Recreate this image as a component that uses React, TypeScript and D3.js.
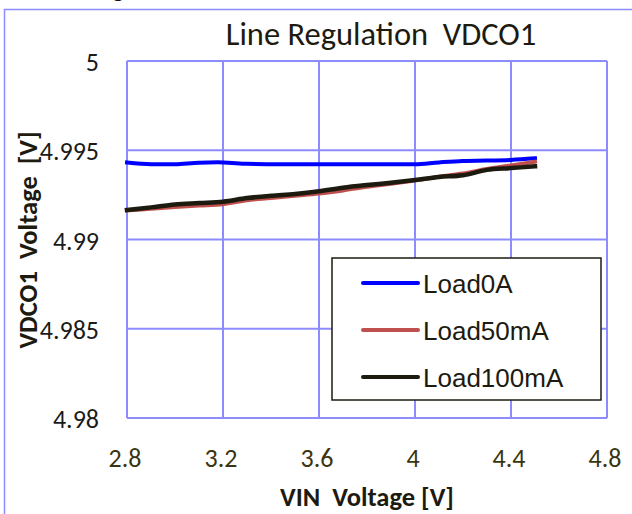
import { useEffect, useRef } from "react";
import * as d3 from "d3";

const vin = [2.8, 2.9, 3.0, 3.1, 3.2, 3.3, 3.4, 3.5, 3.6, 3.7, 3.8, 3.9, 4.0, 4.1, 4.2, 4.3, 4.4, 4.5];

const load0A = [
  4.99432, 4.99422, 4.99422, 4.9943, 4.99432, 4.99424, 4.99422, 4.99422, 4.99422,
  4.99422, 4.99422, 4.99422, 4.99422, 4.99432, 4.9944, 4.99442, 4.99446, 4.99455,
];
const load50mA = [
  4.99163, 4.99172, 4.99182, 4.9919, 4.99198, 4.9922, 4.99232, 4.99245, 4.99258,
  4.99275, 4.99295, 4.99312, 4.9933, 4.99352, 4.9937, 4.99395, 4.99415, 4.99436,
];
const load100mA = [
  4.99165, 4.9918, 4.99196, 4.99204, 4.99212, 4.99232, 4.99245, 4.99255, 4.9927,
  4.9929, 4.99305, 4.99318, 4.99333, 4.9935, 4.9936, 4.9939, 4.994, 4.9941,
];

const seriesNames = ["Load0A", "Load50mA", "Load100mA"];
const seriesColors = ["#0000ff", "#c0504d", "#1d1b10"];
const xTicks = [2.8, 3.2, 3.6, 4.0, 4.4, 4.8];
const yTicks = [4.98, 4.985, 4.99, 4.995, 5];

const width = 632;
const height = 514;
const labelFont = "Carlito, Calibri, 'Liberation Sans Narrow', 'Open Sans', sans-serif";

export default function App() {
  const svgRef = useRef<SVGSVGElement>(null);

  useEffect(() => {
    if (!svgRef.current) return;
    const svg = d3.select(svgRef.current);
    svg.selectAll("*").remove();

    const x = d3.scaleLinear().domain([2.8, 4.8]).range([127, 607]);
    const y = d3.scaleLinear().domain([4.98, 5]).range([418, 61]);

    svg.append("rect").attr("width", width).attr("height", height).attr("fill", "#fff");

    // outer chart border (partly off-page)
    svg.append("rect")
      .attr("x", 4.5).attr("y", 9.5)
      .attr("width", 700).attr("height", 600)
      .attr("fill", "none").attr("stroke", "#8c8cff").attr("stroke-width", 1.5);

    // cut-off heading above the chart
    svg.append("text")
      .attr("x", 124).attr("y", -3)
      .attr("text-anchor", "end")
      .attr("font-family", labelFont).attr("font-weight", "bold").attr("font-size", 24)
      .attr("fill", "#111")
      .text("g");

    // grid
    const grid = svg.append("g").attr("stroke", "#8c8cff").attr("stroke-width", 2);
    xTicks.forEach((t) => {
      grid.append("line").attr("x1", x(t)).attr("x2", x(t)).attr("y1", y(5)).attr("y2", y(4.98));
    });
    yTicks.forEach((t) => {
      grid.append("line").attr("x1", x(2.8)).attr("x2", x(4.8)).attr("y1", y(t)).attr("y2", y(t));
    });

    // tick labels
    svg.append("g").selectAll("text").data(yTicks).enter().append("text")
      .attr("x", 99).attr("y", (d) => y(d) + 10)
      .attr("text-anchor", "end")
      .attr("font-family", labelFont).attr("font-size", 26)
      .attr("fill", "#1a1a1a")
      .text((d) => String(d));

    svg.append("g").selectAll("text").data(xTicks).enter().append("text")
      .attr("x", (d) => x(d) - 2).attr("y", 467)
      .attr("text-anchor", "middle")
      .attr("font-family", labelFont).attr("font-size", 26)
      .attr("fill", "#3a3510")
      .text((d) => String(d));

    // titles
    svg.append("text")
      .attr("x", 381).attr("y", 45)
      .attr("text-anchor", "middle")
      .attr("font-family", labelFont).attr("font-size", 32.5)
      .attr("fill", "#1d1b10")
      .attr("xml:space", "preserve")
      .text("Line Regulation  VDCO1");

    svg.append("text")
      .attr("x", 367).attr("y", 506)
      .attr("text-anchor", "middle")
      .attr("font-family", labelFont).attr("font-weight", "bold").attr("font-size", 26.5)
      .attr("fill", "#1d1b10")
      .attr("xml:space", "preserve")
      .text("VIN  Voltage [V]");

    svg.append("text")
      .attr("transform", "translate(37,240) rotate(-90)")
      .attr("text-anchor", "middle")
      .attr("font-family", labelFont).attr("font-weight", "bold").attr("font-size", 26.5)
      .attr("fill", "#1d1b10")
      .attr("xml:space", "preserve")
      .text("VDCO1  Voltage  [V]");

    // series
    const allSeries = [load0A, load50mA, load100mA];
    const line = d3.line<number>()
      .x((_, i) => x(vin[i]))
      .y((d) => y(d))
      .curve(d3.curveCatmullRom);
    allSeries.forEach((vals, i) => {
      svg.append("path")
        .attr("d", line(vals) as string)
        .attr("fill", "none")
        .attr("stroke", seriesColors[i])
        .attr("stroke-width", i === 2 ? 4.5 : 4)
        .attr("stroke-linecap", "square");
    });

    // legend
    const lg = svg.append("g");
    lg.append("rect")
      .attr("x", 332).attr("y", 258).attr("width", 269).attr("height", 142)
      .attr("fill", "#fff").attr("stroke", "#1d1b10").attr("stroke-width", 1.5);
    seriesNames.forEach((name, i) => {
      const cy = 283 + i * 47;
      lg.append("line")
        .attr("x1", 363).attr("x2", 418).attr("y1", cy).attr("y2", cy)
        .attr("stroke", seriesColors[i]).attr("stroke-width", 4).attr("stroke-linecap", "round");
      lg.append("text")
        .attr("x", 423).attr("y", cy + 10)
        .attr("font-family", "'Liberation Sans', Arial, sans-serif").attr("font-size", 26)
        .attr("fill", "#1d1b10")
        .text(name);
    });
  }, []);

  return (
    <svg
      ref={svgRef}
      width={width}
      height={height}
      style={{ position: "absolute", left: 0, top: 0, display: "block" }}
    />
  );
}
